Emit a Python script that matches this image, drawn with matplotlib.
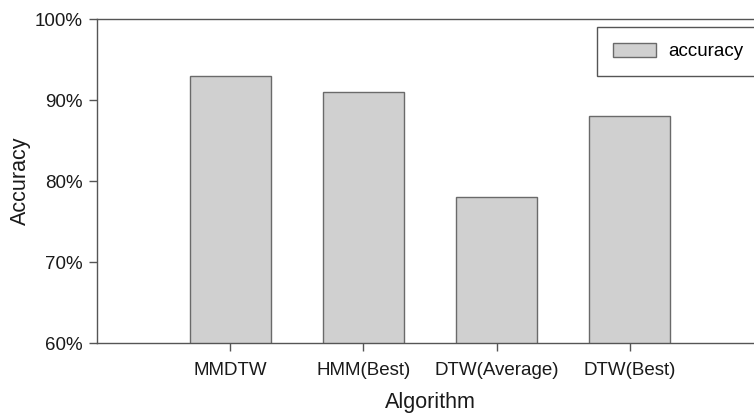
import matplotlib
matplotlib.use("Agg")
import numpy as np
from matplotlib import pyplot as plt
from matplotlib.ticker import FuncFormatter

plt.rcParams['font.family'] = ['Liberation Sans', 'DejaVu Sans']

## [data]
algorithms = ["MMDTW", "HMM(Best)", "DTW(Average)", "DTW(Best)"]
accuracy = [93, 91, 78, 88]
y_ticks = [60, 70, 80, 90, 100]
## [data]

fig = plt.figure(figsize=(7.54, 4.19), dpi=100)
# axes runs a little past the right edge, like the original
ax = fig.add_axes([97 / 754, (419 - 343) / 419, 666 / 754, 324 / 419])

x = np.arange(1, len(algorithms) + 1)
ax.bar(x, accuracy, width=0.61, color="#d0d0d0", edgecolor="#6a6a6a",
       linewidth=1.0, label="accuracy")

ax.set_xlim(0, 5)
ax.set_ylim(60, 100)
ax.set_xticks(x)
ax.set_xticklabels(algorithms)
ax.set_yticks(y_ticks)
ax.yaxis.set_major_formatter(FuncFormatter(lambda v, p: "%d%%" % v))

for side in ["left", "bottom", "top"]:
    ax.spines[side].set_color("#555555")
    ax.spines[side].set_linewidth(1.0)
ax.spines["right"].set_visible(False)

ax.tick_params(axis="both", direction="out", length=6, width=1.0,
               color="#555555", labelsize=13.5, labelcolor="#1a1a1a", pad=4)
ax.tick_params(axis="x", pad=8)

ax.set_xlabel("Algorithm", fontsize=15.5, color="#1a1a1a", labelpad=9)
ax.set_ylabel("Accuracy", fontsize=15.5, color="#1a1a1a", labelpad=3)

leg = ax.legend(loc="upper left", bbox_to_anchor=(0.751, 0.825, 0.245, 0.15),
                mode="expand", borderaxespad=0, fancybox=False,
                edgecolor="#555555", framealpha=1, fontsize=13.5,
                borderpad=0.85, handlelength=2.3, handleheight=0.75,
                handletextpad=0.65)
leg.get_frame().set_linewidth(1.0)

fig.savefig("out.png", dpi=100)
